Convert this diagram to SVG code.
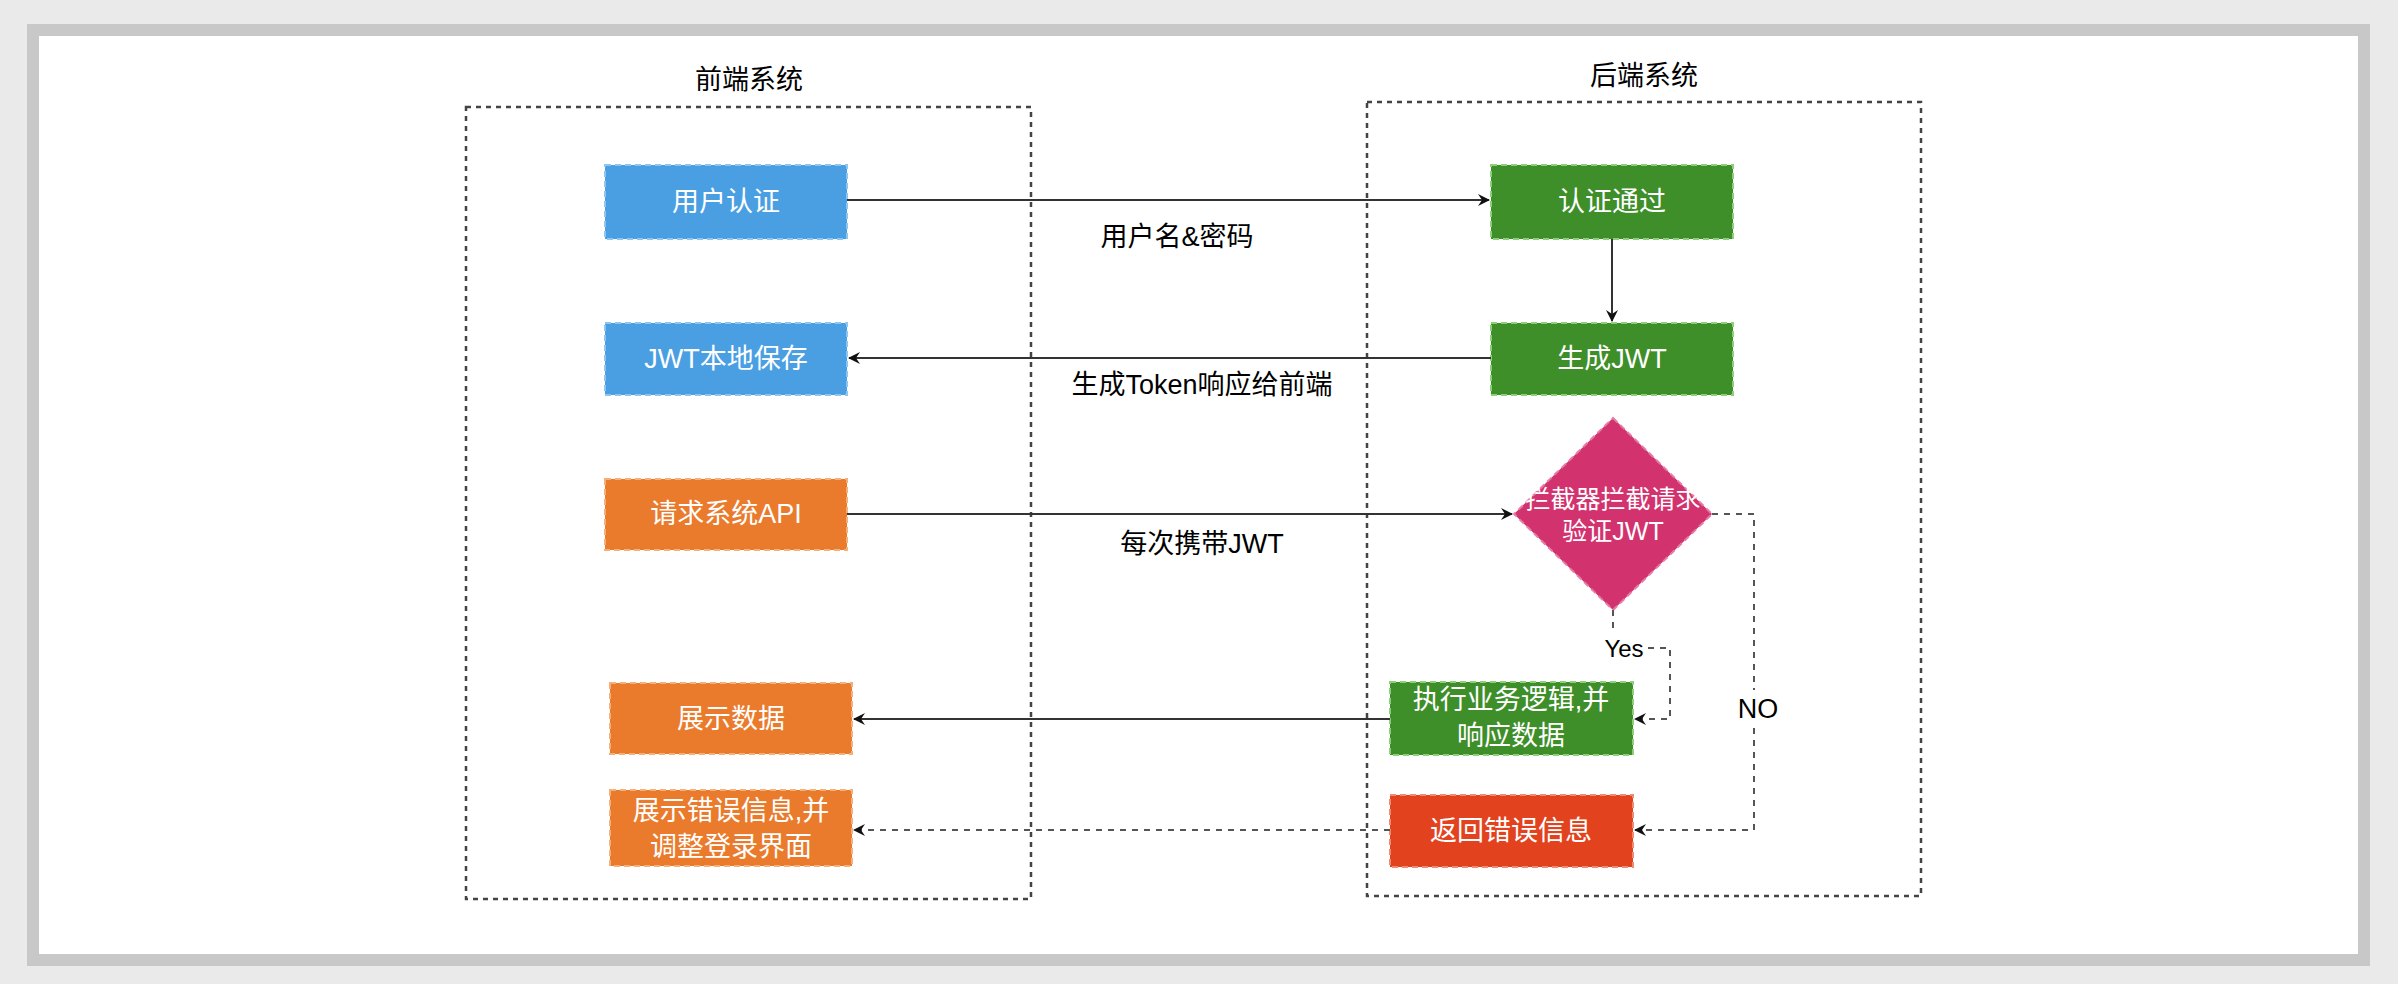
<svg xmlns="http://www.w3.org/2000/svg" width="2398" height="984" viewBox="0 0 2398 984">
<style>
text{font-family:"Liberation Sans","Noto Sans CJK SC",sans-serif;font-size:27px;text-anchor:middle;dominant-baseline:central}
.w{fill:#fff}
.c{fill:none;stroke:#444;stroke-width:2.5;stroke-dasharray:5 5}
.n{stroke-width:2;stroke-dasharray:6 4}
.l{fill:none;stroke:#333;stroke-width:2}
.d{fill:none;stroke:#555;stroke-width:2;stroke-dasharray:6 6}
</style>
<defs><marker id="a" markerWidth="12" markerHeight="12" refX="11" refY="6" orient="auto" markerUnits="userSpaceOnUse"><path d="M0,0 L12,6 L0,12 L4,6 Z" fill="#111"/></marker></defs>
<rect width="2398" height="984" fill="#eaeaea"/>
<rect x="33" y="30" width="2331" height="930" fill="#fff" stroke="#c8c8c8" stroke-width="12"/>
<g id="frontend"><rect class="c" x="466" y="107" width="565" height="792"/><text x="749" y="80">前端系统</text></g>
<g id="backend"><rect class="c" x="1367" y="102" width="554" height="794"/><text x="1644" y="76">后端系统</text></g>
<g id="n1"><rect class="n" x="605" y="165" width="242" height="74" fill="#4a9fe3" stroke="#8cc6f2"/><text class="w" x="726" y="202">用户认证</text></g>
<g id="n2"><rect class="n" x="605" y="323" width="242" height="72" fill="#4a9fe3" stroke="#8cc6f2"/><text class="w" x="726" y="359">JWT本地保存</text></g>
<g id="n3"><rect class="n" x="605" y="479" width="242" height="71" fill="#ea7b2c" stroke="#f5b07a"/><text class="w" x="726" y="514">请求系统API</text></g>
<g id="n4"><rect class="n" x="610" y="683" width="242" height="71" fill="#ea7b2c" stroke="#f5b07a"/><text class="w" x="731" y="719">展示数据</text></g>
<g id="n5"><rect class="n" x="610" y="790" width="242" height="76" fill="#ea7b2c" stroke="#f5b07a"/><text class="w" x="731" y="811">展示错误信息,并</text><text class="w" x="731" y="847">调整登录界面</text></g>
<g id="n6"><rect class="n" x="1491" y="165" width="242" height="74" fill="#3e8e2a" stroke="#8dd07a"/><text class="w" x="1612" y="202">认证通过</text></g>
<g id="n7"><rect class="n" x="1491" y="323" width="242" height="72" fill="#3e8e2a" stroke="#8dd07a"/><text class="w" x="1612" y="359">生成JWT</text></g>
<g id="n8"><path class="n" d="M1613,418 L1712,514 L1613,610 L1514,514 Z" fill="#d2336f" stroke="#e87aa6"/><text class="w" x="1613" y="499" style="font-size:25px">拦截器拦截请求</text><text class="w" x="1613" y="531" style="font-size:25px">验证JWT</text></g>
<g id="n9"><rect class="n" x="1390" y="682" width="243" height="73" fill="#3e8e2a" stroke="#8dd07a"/><text class="w" x="1511" y="700">执行业务逻辑,并</text><text class="w" x="1511" y="736">响应数据</text></g>
<g id="n10"><rect class="n" x="1390" y="795" width="243" height="72" fill="#e2421e" stroke="#f08a70"/><text class="w" x="1511" y="831">返回错误信息</text></g>
<g id="connectors">
<path class="l" d="M847,200 H1489" marker-end="url(#a)"/>
<path class="l" d="M1612,239 V321" marker-end="url(#a)"/>
<path class="l" d="M1491,358 H849" marker-end="url(#a)"/>
<path class="l" d="M847,514 H1512" marker-end="url(#a)"/>
<path class="l" d="M1390,719 H854" marker-end="url(#a)"/>
<path class="d" d="M1390,830 H854" marker-end="url(#a)"/>
<path class="d" d="M1613,610 V632 M1648,648 H1670 V719 H1635" marker-end="url(#a)"/>
<path class="d" d="M1712,514 H1754 V690 M1754,728 V830 H1635" marker-end="url(#a)"/>
<text x="1177" y="237">用户名&amp;密码</text>
<text x="1202" y="385">生成Token响应给前端</text>
<text x="1202" y="544">每次携带JWT</text>
<text x="1624" y="648" style="font-size:24px">Yes</text>
<text x="1758" y="709">NO</text>
</g>
</svg>
